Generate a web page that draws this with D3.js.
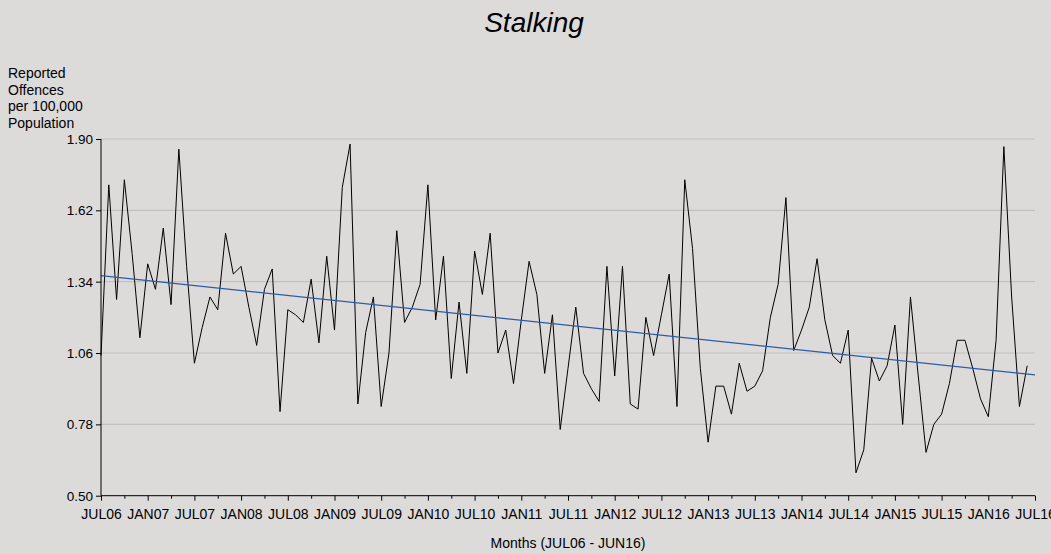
<!DOCTYPE html>
<html>
<head>
<meta charset="utf-8">
<script src="https://cdn.jsdelivr.net/npm/d3@7"></script>
<style>
  html, body { margin: 0; padding: 0; background: #dcdbda; }
  svg { display: block; }
  text { font-family: "Liberation Sans", Arial, sans-serif; fill: #000; }
</style>
</head>
<body>
<svg id="chart" width="1051" height="554"></svg>
<script>
// ---- Data (monthly, JUL06 .. JUN16) ----
const months = d3.range(120); // month index from JUL06
const values = [
  1.05, 1.72, 1.27, 1.74, 1.45, 1.12, 1.41, 1.31, 1.55, 1.25,
  1.86, 1.40, 1.02, 1.16, 1.28, 1.23, 1.53, 1.37, 1.40, 1.24,
  1.09, 1.31, 1.39, 0.83, 1.23, 1.21, 1.18, 1.35, 1.10, 1.44,
  1.15, 1.71, 1.88, 0.86, 1.14, 1.28, 0.85, 1.06, 1.54, 1.18,
  1.24, 1.33, 1.72, 1.19, 1.44, 0.96, 1.26, 0.98, 1.46, 1.29,
  1.53, 1.06, 1.15, 0.94, 1.19, 1.42, 1.29, 0.98, 1.21, 0.76,
  1.00, 1.24, 0.98, 0.92, 0.87, 1.40, 0.97, 1.40, 0.86, 0.84,
  1.20, 1.05, 1.21, 1.37, 0.85, 1.74, 1.47, 1.00, 0.71, 0.93,
  0.93, 0.82, 1.02, 0.91, 0.93, 0.99, 1.20, 1.33, 1.67, 1.07,
  1.15, 1.24, 1.43, 1.19, 1.05, 1.02, 1.15, 0.59, 0.68, 1.04,
  0.95, 1.01, 1.17, 0.78, 1.28, 0.97, 0.67, 0.78, 0.82, 0.94,
  1.11, 1.11, 1.00, 0.88, 0.81, 1.11, 1.87, 1.28, 0.85, 1.01
];
const trendMonths = [0, 120];
const trendValues = [1.364, 0.974];
const yTicks = [0.50, 0.78, 1.06, 1.34, 1.62, 1.90];
const xTickMonths = d3.range(0, 121, 3);
const xTickLabels = ["JUL06","JAN07","JUL07","JAN08","JUL08","JAN09","JUL09","JAN10","JUL10","JAN11",
                     "JUL11","JAN12","JUL12","JAN13","JUL13","JAN14","JUL14","JAN15","JUL15","JAN16","JUL16"];
const yTitleLines = ["Reported", "Offences", "per 100,000", "Population"];
const chartTitle = "Stalking";
const xTitle = "Months (JUL06 - JUN16)";

// ---- Layout ----
const plotLeft = 101, plotRight = 1035, plotTop = 139, plotBottom = 495.7;
const svg = d3.select("#chart");

const x = d3.scaleLinear().domain([0, 120]).range([plotLeft, plotRight]);
const y = d3.scaleLinear().domain([0.5, 1.9]).range([plotBottom, plotTop]);

// gridlines
svg.append("g").selectAll("line").data(yTicks.slice(1)).join("line")
  .attr("x1", plotLeft).attr("x2", plotRight)
  .attr("y1", d => y(d)).attr("y2", d => y(d))
  .attr("stroke", "#c2c1c0").attr("stroke-width", 1.2);

// data line
svg.append("path")
  .datum(months)
  .attr("fill", "none")
  .attr("stroke", "#000")
  .attr("stroke-width", 1)
  .attr("d", d3.line().x(i => x(i)).y(i => y(values[i])));

// trend line
svg.append("path")
  .datum(trendMonths.map((m, i) => [m, trendValues[i]]))
  .attr("fill", "none")
  .attr("stroke", "#2b5ca8")
  .attr("stroke-width", 1.2)
  .attr("d", d3.line().x(d => x(d[0])).y(d => y(d[1])));

// x axis
const xAxis = d3.axisBottom(x)
  .tickValues(xTickMonths)
  .tickSize(5)
  .tickFormat(m => (m % 6 === 0) ? xTickLabels[m / 6] : "");
const gx = svg.append("g").attr("transform", `translate(0,${plotBottom})`).call(xAxis);
gx.select(".domain").attr("stroke", "#000").attr("d", `M${plotLeft},0H${plotRight}`);
gx.selectAll(".tick line").attr("stroke", "#000")
  .attr("y2", m => (m % 6 === 0) ? 5 : 3);
gx.selectAll(".tick text")
  .attr("y", 23.5).attr("dy", 0)
  .style("font-size", "14px")
  .style("font-family", '"Liberation Sans", Arial, sans-serif');

// y axis
const yAxis = d3.axisLeft(y)
  .tickValues(yTicks)
  .tickSize(5)
  .tickPadding(3)
  .tickFormat(d3.format(".2f"));
const gy = svg.append("g").attr("transform", `translate(${plotLeft},0)`).call(yAxis);
gy.select(".domain").attr("stroke", "#000").attr("d", `M0,${plotTop}V${plotBottom}`);
gy.selectAll(".tick line").attr("stroke", "#000");
gy.selectAll(".tick text")
  .style("font-size", "13.5px")
  .style("font-family", '"Liberation Sans", Arial, sans-serif');

// title
svg.append("text")
  .attr("x", 534).attr("y", 32)
  .attr("text-anchor", "middle")
  .style("font-size", "28px")
  .style("font-style", "italic")
  .text(chartTitle);

// y title
svg.append("g").selectAll("text").data(yTitleLines).join("text")
  .attr("x", 8)
  .attr("y", (d, i) => 78 + i * 16.7)
  .style("font-size", "14px")
  .text(d => d);

// x title
svg.append("text")
  .attr("x", (plotLeft + plotRight) / 2).attr("y", 548)
  .attr("text-anchor", "middle")
  .style("font-size", "14px")
  .text(xTitle);
</script>
</body>
</html>
